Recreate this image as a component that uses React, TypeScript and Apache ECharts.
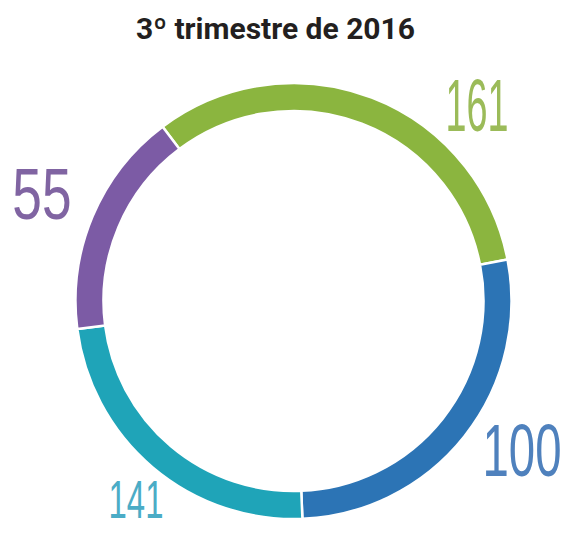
import React, { useEffect, useRef } from "react";
import * as echarts from "echarts";

const titleText = "3º trimestre de 2016";
const categories = ["Verde", "Azul", "Turquesa", "Roxo"];
const counts = [161, 100, 141, 55];
// share of the ring each arc occupies as drawn in the picture (percent)
const arcShares = [32.2, 27.4, 23.6, 16.8];
const ringColors = ["#8bb53f", "#2c74b5", "#1fa4b8", "#7c5ba5"];
const labelColors = ["#9bbb59", "#4f81bd", "#4bacc6", "#8064a2"];

// label placement (layout only)
const labelLayout = [
  { x: 477, y: 105, size: 74, sx: 0.51 },
  { x: 522, y: 450, size: 74, sx: 0.64 },
  { x: 136, y: 499, size: 54, sx: 0.61 },
  { x: 42, y: 194, size: 72, sx: 0.74 },
];

export default function App() {
  const ref = useRef<HTMLDivElement>(null);
  useEffect(() => {
    if (!ref.current) return;
    const chart = echarts.init(ref.current, null, { renderer: "svg" });
    chart.setOption({
      animation: false,
      backgroundColor: "#ffffff",
      title: {
        text: titleText,
        left: 131,
        top: 8,
        textStyle: {
          fontFamily: "Roboto",
          fontSize: 30,
          fontWeight: "bold",
          color: "#231f20",
        },
      },
      graphic: counts.map((c, i) => ({
        type: "text",
        x: labelLayout[i].x,
        y: labelLayout[i].y,
        scaleX: labelLayout[i].sx,
        style: {
          text: String(c),
          fontFamily: "Liberation Sans",
          fontSize: labelLayout[i].size,
          fill: labelColors[i],
          textAlign: "center",
          textVerticalAlign: "middle",
        },
        silent: true,
      })),
      series: [
        {
          type: "pie",
          center: [293.5, 301],
          radius: [190, 218],
          startAngle: 126.9,
          clockwise: true,
          silent: true,
          label: { show: false },
          labelLine: { show: false },
          itemStyle: { borderColor: "#ffffff", borderWidth: 2.5 },
          data: categories.map((name, i) => ({
            name,
            value: arcShares[i],
            itemStyle: { color: ringColors[i] },
          })),
        },
      ],
    });
    return () => chart.dispose();
  }, []);
  return (
    <div
      ref={ref}
      style={{ position: "fixed", left: 0, top: 0, width: 566, height: 533 }}
    />
  );
}
